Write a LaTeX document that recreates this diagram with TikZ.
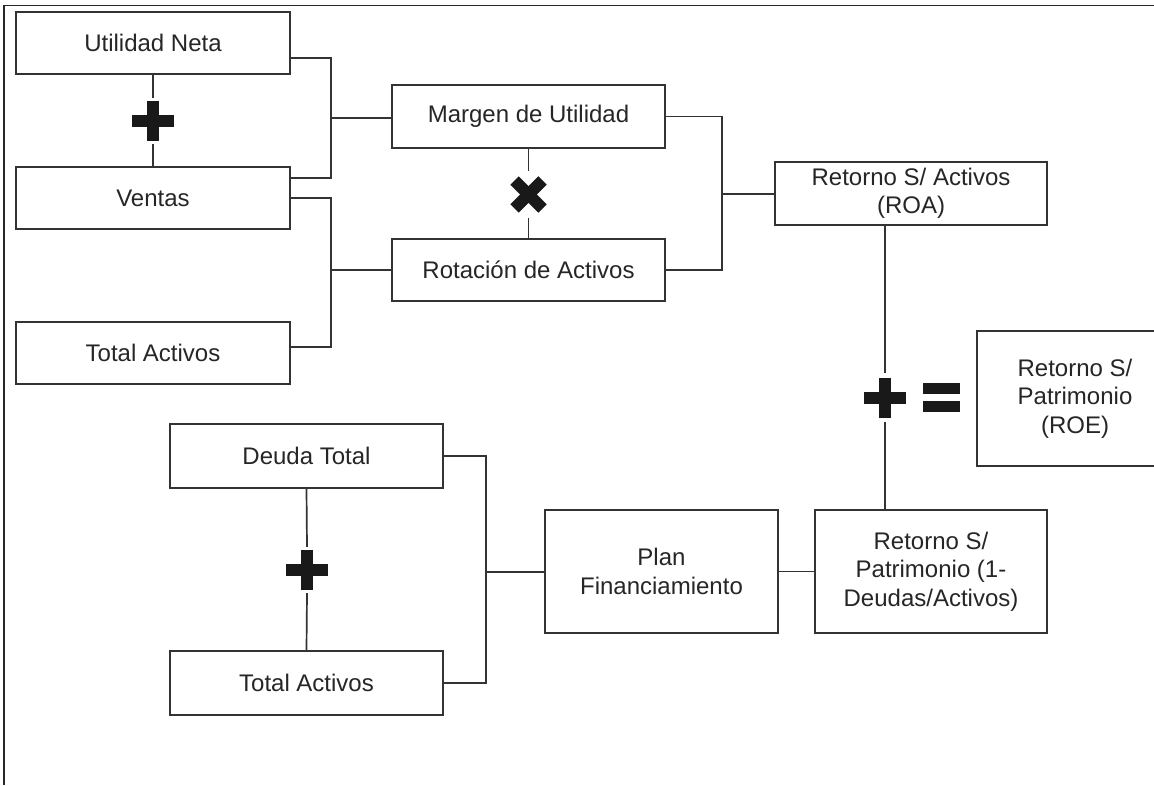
\documentclass[tikz,border=0pt]{standalone}
\usepackage{fontspec}
\setmainfont{Liberation Sans}
\usepackage{tikz}
\usetikzlibrary{calc}

\tikzset{
    box/.style={draw=black!80, line width=2pt, fill=white, text=black!85, align=center,
        minimum width=274pt, minimum height=62pt, inner sep=2pt,
        font=\fontsize{24}{28.5}\selectfont},
    link/.style={draw=black!80, line width=1.7pt},
    opsym/.style={inner sep=0pt, minimum width=44pt, minimum height=46pt},
    heavy/.style={draw=black!90, line width=12pt},
}

\begin{document}
\begin{tikzpicture}[x=1pt, y=-1pt]
    \useasboundingbox (0,0) rectangle (1154,785);
    \clip (0,0) rectangle (1154,785);
    \draw [line width=1.5pt, black!85] (4,785) --(4,5.5) --(1154,5.5);

    \node [box] (un) at (153,43) {Utilidad Neta};
    \node [box] (ve) at (153,198) {Ventas};
    \node [box] (ta) at (153,353) {Total Activos};
    \node [box, minimum width=273pt, minimum height=63pt] (mu) at (528.5,116.5) {Margen de Utilidad};
    \node [box, minimum width=273pt] (ra) at (528.5,270) {Rotación de Activos};
    \node [box, minimum width=272pt, minimum height=63pt] (roa) at (911,193.5) {Retorno S/ Activos\\(ROA)};
    \node [box, minimum width=196pt, minimum height=135pt] (roe) at (1075,398.5) {Retorno S/\\Patrimonio\\(ROE)};
    \node [box, minimum width=273pt, minimum height=64pt] (dt) at (306.5,456) {Deuda Total};
    \node [box, minimum width=273pt, minimum height=64pt] (tb) at (306.5,683) {Total Activos};
    \node [box, minimum width=233pt, minimum height=123pt] (pf) at (661.5,571.5) {Plan\\Financiamiento};
    \node [box, minimum width=232pt, minimum height=123pt] (po) at (931,571.5) {Retorno S/\\Patrimonio (1-\\Deudas/Activos)};

    \node [opsym] (p1) at (153,121) {};
    \node [opsym] (x1) at (528.5,194.5) {};
    \node [opsym] (p2) at (307,570) {};
    \node [opsym, minimum height=49pt] (p3) at (885,397.5) {};
    \coordinate (eq) at (941.5,397.5);

    \foreach \p in {p1,p2,p3}{
        \draw [heavy] ($(\p)+(0,-20)$) -- ($(\p)+(0,20)$);
        \draw [heavy] ($(\p)+(-21,0)$) -- ($(\p)+(21,0)$);
    }
    \draw [heavy] ($(x1)+(-14,-14)$) -- ($(x1)+(14,14)$);
    \draw [heavy] ($(x1)+(14,-14)$) -- ($(x1)+(-14,14)$);
    \fill [black!90] ($(eq)+(-18.5,-14.5)$) rectangle ($(eq)+(18.5,-3.5)$);
    \fill [black!90] ($(eq)+(-18.5,3.5)$) rectangle ($(eq)+(18.5,14.5)$);

    \draw [link] (un.south) -- (p1.north);
    \draw [link] (p1.south) -- (ve.north);
    \draw [link] (mu.south) -- (x1.north);
    \draw [link] (x1.south) -- (ra.north);
    \draw [link] (dt.south) -- (p2.north);
    \draw [link] (p2.south) -- (tb.north);
    \draw [link] (p3 |- roa.south) -- (p3.north);
    \draw [link] (p3.south) -- (p3 |- po.north);

    \coordinate (j1) at (331,118);
    \coordinate (j2) at (331,270);
    \coordinate (j3) at (722,194);
    \coordinate (j4) at (486,572);
    \draw [link] ([yshift=-15pt]un.east) -| (j1) |- ([yshift=20pt]ve.east);
    \draw [link] (j1) -- (j1 -| mu.west);
    \draw [link] (ve.east) -| (j2) |- ([yshift=6pt]ta.east);
    \draw [link] (j2) -- (j2 -| ra.west);
    \draw [link] (mu.east) -| (j3) |- (ra.east);
    \draw [link] (j3) -- (j3 -| roa.west);
    \draw [link] (dt.east) -| (j4) |- (tb.east);
    \draw [link] (j4) -- (j4 -| pf.west);
    \draw [link] (pf.east) -- (po.west);
\end{tikzpicture}
\end{document}
